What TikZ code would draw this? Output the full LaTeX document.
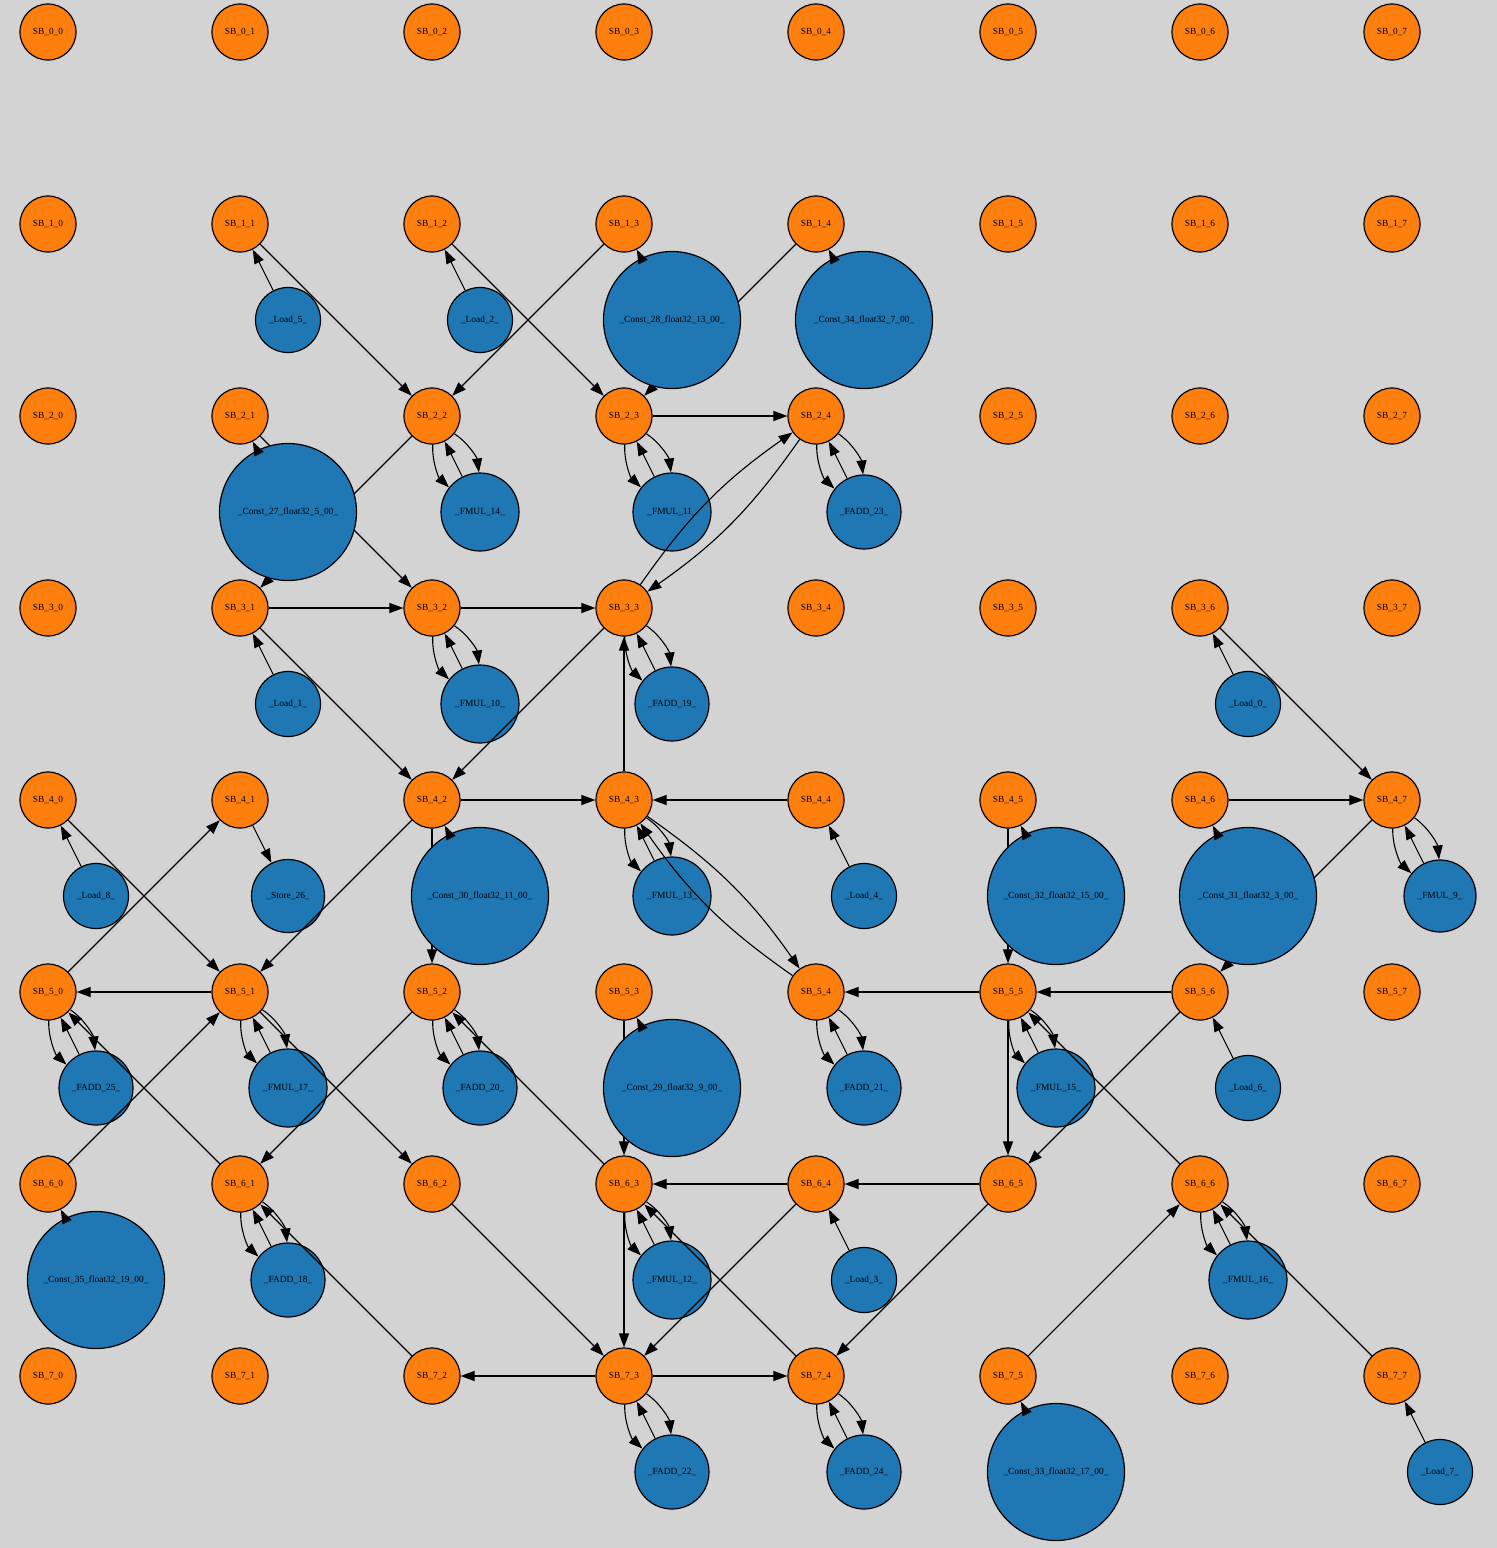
\documentclass[tikz,border=0pt]{standalone}
\usepackage{fontspec}
\setmainfont{Liberation Serif}
\usetikzlibrary{arrows.meta}
\definecolor{sborange}{HTML}{FF7F0E}
\definecolor{peblue}{HTML}{1F77B4}
\definecolor{bggray}{HTML}{D3D3D3}
\pgfdeclarelayer{back}
\pgfdeclarelayer{front}
\pgfsetlayers{back,main,front}

\begin{document}
\begin{tikzpicture}[x=1pt,y=-1pt,
        every node/.style={circle,draw=black,line width=1.2pt,inner sep=0pt,
            font=\fontsize{9.4}{10}\selectfont},
        sb/.style={fill=sborange,minimum size=56pt},
        pe/.style={fill=peblue,minimum size=#1},
        route/.style={-{Triangle[length=14pt,width=10pt]},line width=1.1pt}]
        \useasboundingbox (0,0) rectangle (1497,1548);
        \begin{pgfonlayer}{back}
            \fill[bggray] (0,0) rectangle (1497,1548);
        \end{pgfonlayer}

        \foreach \row in {0,...,7}
            \foreach \col in {0,...,7}
                \node[sb] (sb\row\col) at ({48+192*\col},{32+192*\row}) {SB\_\row\_\col};

        \node[pe=65pt] (load5)   at (288,320)   {\_Load\_5\_};
        \node[pe=65pt] (load2)   at (480,320)   {\_Load\_2\_};
        \node[pe=78pt] (fmul14)  at (480,512)   {\_FMUL\_14\_};
        \node[pe=78pt] (fmul11)  at (672,512)   {\_FMUL\_11\_};
        \node[pe=74pt] (fadd23)  at (864,512)   {\_FADD\_23\_};
        \node[pe=65pt] (load1)   at (288,704)   {\_Load\_1\_};
        \node[pe=78pt] (fmul10)  at (480,704)   {\_FMUL\_10\_};
        \node[pe=74pt] (fadd19)  at (672,704)   {\_FADD\_19\_};
        \node[pe=65pt] (load0)   at (1248,704)  {\_Load\_0\_};
        \node[pe=65pt] (load8)   at (96,896)    {\_Load\_8\_};
        \node[pe=73pt] (store26) at (288,896)   {\_Store\_26\_};
        \node[pe=78pt] (fmul13)  at (672,896)   {\_FMUL\_13\_};
        \node[pe=65pt] (load4)   at (864,896)   {\_Load\_4\_};
        \node[pe=72pt] (fmul9)   at (1440,896)  {\_FMUL\_9\_};
        \node[pe=74pt] (fadd25)  at (96,1088)   {\_FADD\_25\_};
        \node[pe=78pt] (fmul17)  at (288,1088)  {\_FMUL\_17\_};
        \node[pe=74pt] (fadd20)  at (480,1088)  {\_FADD\_20\_};
        \node[pe=74pt] (fadd21)  at (864,1088)  {\_FADD\_21\_};
        \node[pe=78pt] (fmul15)  at (1056,1088) {\_FMUL\_15\_};
        \node[pe=65pt] (load6)   at (1248,1088) {\_Load\_6\_};
        \node[pe=74pt] (fadd18)  at (288,1280)  {\_FADD\_18\_};
        \node[pe=78pt] (fmul12)  at (672,1280)  {\_FMUL\_12\_};
        \node[pe=65pt] (load3)   at (864,1280)  {\_Load\_3\_};
        \node[pe=78pt] (fmul16)  at (1248,1280) {\_FMUL\_16\_};
        \node[pe=74pt] (fadd22)  at (672,1472)  {\_FADD\_22\_};
        \node[pe=74pt] (fadd24)  at (864,1472)  {\_FADD\_24\_};
        \node[pe=65pt] (load7)   at (1440,1472) {\_Load\_7\_};

        \begin{pgfonlayer}{front}
            \node[pe=137pt] (const28) at (672,320)   {\_Const\_28\_float32\_13\_00\_};
            \node[pe=137pt] (const34) at (864,320)   {\_Const\_34\_float32\_7\_00\_};
            \node[pe=137pt] (const27) at (288,512)   {\_Const\_27\_float32\_5\_00\_};
            \node[pe=137pt] (const30) at (480,896)   {\_Const\_30\_float32\_11\_00\_};
            \node[pe=137pt] (const32) at (1056,896)  {\_Const\_32\_float32\_15\_00\_};
            \node[pe=137pt] (const31) at (1248,896)  {\_Const\_31\_float32\_3\_00\_};
            \node[pe=137pt] (const29) at (672,1088)  {\_Const\_29\_float32\_9\_00\_};
            \node[pe=137pt] (const35) at (96,1280)   {\_Const\_35\_float32\_19\_00\_};
            \node[pe=137pt] (const33) at (1056,1472) {\_Const\_33\_float32\_17\_00\_};
            \foreach \a/\b in {const28/sb13, const34/sb14, const27/sb21, const30/sb42,
                    const32/sb45, const31/sb46, const29/sb53, const35/sb60, const33/sb75}
                \draw[route] (\a) -- (\b);
        \end{pgfonlayer}

        \foreach \a/\b in {load5/sb11, sb11/sb22, load2/sb12, sb12/sb23, sb13/sb22,
                sb14/sb23, sb21/sb32, sb22/sb31, sb23/sb24, sb31/sb32, load1/sb31,
                sb31/sb42, sb32/sb33, sb33/sb42, sb43/sb33, load0/sb36, sb36/sb47,
                load8/sb40, sb40/sb51, sb50/sb41, sb41/store26, sb42/sb51, sb42/sb43,
                sb42/sb52, sb44/sb43, load4/sb44, sb45/sb55, sb46/sb47, sb47/sb56,
                sb51/sb50, sb61/sb50, sb60/sb51, sb51/sb62, sb52/sb61, sb63/sb52,
                sb53/sb63, sb55/sb54, sb66/sb55, sb55/sb65, sb56/sb55, sb56/sb65,
                load6/sb56, sb72/sb61, sb62/sb73, sb64/sb63, sb74/sb63, sb63/sb73,
                sb64/sb73, load3/sb64, sb65/sb64, sb65/sb74, sb75/sb66, sb77/sb66,
                sb73/sb72, sb73/sb74, load7/sb77}
            \draw[route] (\a) -- (\b);

        \foreach \s/\p in {sb22/fmul14, sb23/fmul11, sb24/fadd23, sb32/fmul10,
                sb33/fadd19, sb43/fmul13, sb47/fmul9, sb50/fadd25, sb51/fmul17,
                sb52/fadd20, sb54/fadd21, sb55/fmul15, sb61/fadd18, sb63/fmul12,
                sb66/fmul16, sb73/fadd22, sb74/fadd24} {
            \draw[route] (\s) to[bend left=25,looseness=0.85] (\p);
            \draw[route] (\s) to[bend right=25,looseness=0.85] (\p);
            \draw[route] (\p) -- (\s);
        }

        \draw[route] (sb33) to[bend left=10] (sb24);
        \draw[route] (sb24) to[bend left=10] (sb33);
        \draw[route] (sb43) to[bend left=10] (sb54);
        \draw[route] (sb54) to[bend left=10] (sb43);
    \end{tikzpicture}
\end{document}
